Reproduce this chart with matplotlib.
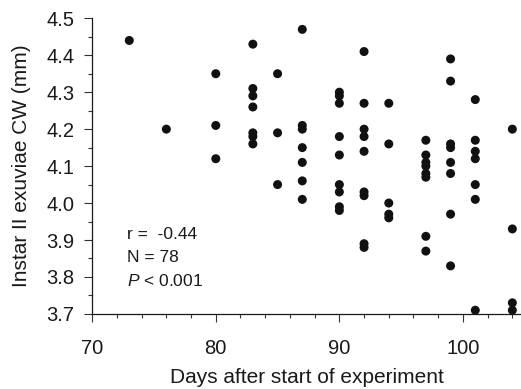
import numpy as np
import matplotlib
matplotlib.use("Agg")
import matplotlib.pyplot as plt
from matplotlib.ticker import MultipleLocator, FormatStrFormatter

plt.rcParams['font.family'] = ['Liberation Sans', 'DejaVu Sans']
plt.rcParams['mathtext.fontset'] = 'custom'
plt.rcParams['mathtext.rm'] = 'Liberation Sans'
plt.rcParams['mathtext.it'] = 'Liberation Sans:italic'

# days after start of experiment (one entry per column of dots)
day_groups = [73, 76, 80, 83, 85, 87, 90, 92, 94, 97, 99, 101, 104]

# instar II exuviae carapace width (mm) for each day
cw_groups = [
    [4.44],
    [4.20],
    [4.35, 4.21, 4.12],
    [4.43, 4.31, 4.29, 4.26, 4.19, 4.18, 4.16],
    [4.35, 4.19, 4.05],
    [4.47, 4.21, 4.20, 4.15, 4.11, 4.06, 4.01],
    [4.30, 4.29, 4.27, 4.18, 4.13, 4.05, 4.03, 3.99, 3.98],
    [4.41, 4.27, 4.20, 4.18, 4.14, 4.03, 4.02, 3.89, 3.88],
    [4.27, 4.16, 4.00, 3.97, 3.96],
    [4.17, 4.13, 4.11, 4.10, 4.08, 4.07, 3.91, 3.87],
    [4.39, 4.33, 4.16, 4.15, 4.11, 4.08, 3.97, 3.83],
    [4.28, 4.17, 4.14, 4.12, 4.05, 4.01, 3.71],
    [4.20, 3.93, 3.73, 3.71],
]

stats_lines = ['r =  -0.44', 'N = 78', r'$P$ < 0.001']

days = np.concatenate([[d] * len(v) for d, v in zip(day_groups, cw_groups)])
cw = np.concatenate(cw_groups)

fig = plt.figure(figsize=(5.21, 3.89), dpi=100)
ax = fig.add_axes([0.177, 0.193, 0.823, 0.760])

ax.scatter(days, cw, s=42, color='#111111', edgecolors='none', zorder=3, clip_on=False)

ax.set_xlim(70, 104.7)
ax.set_ylim(3.7, 4.5)
ax.xaxis.set_major_locator(MultipleLocator(10))
ax.xaxis.set_minor_locator(MultipleLocator(2))
ax.yaxis.set_major_locator(MultipleLocator(0.1))
ax.yaxis.set_minor_locator(MultipleLocator(0.05))
ax.yaxis.set_major_formatter(FormatStrFormatter('%.1f'))

for side in ['top', 'right']:
    ax.spines[side].set_visible(False)
for side in ['left', 'bottom']:
    ax.spines[side].set_linewidth(0.9)
    ax.spines[side].set_color('#1a1a1a')

ax.tick_params(axis='both', which='major', direction='out', length=5.8, width=0.8,
               color='#333333', labelsize=14.5, labelcolor='#1a1a1a')
ax.tick_params(axis='both', which='minor', direction='out', length=2.9, width=0.8,
               color='#333333')
ax.tick_params(axis='y', which='major', pad=7)
ax.tick_params(axis='x', which='major', pad=12.5)

ax.set_xlabel('Days after start of experiment', fontsize=15, color='#1a1a1a', labelpad=7)
ax.set_ylabel('Instar II exuviae CW (mm)', fontsize=15, color='#1a1a1a', labelpad=11)

for i, line in enumerate(stats_lines):
    ax.text(0.081, 0.267 - i * 0.077, line, transform=ax.transAxes,
            fontsize=12.5, color='#1a1a1a', ha='left', va='center')

fig.savefig('out.png', dpi=100)
